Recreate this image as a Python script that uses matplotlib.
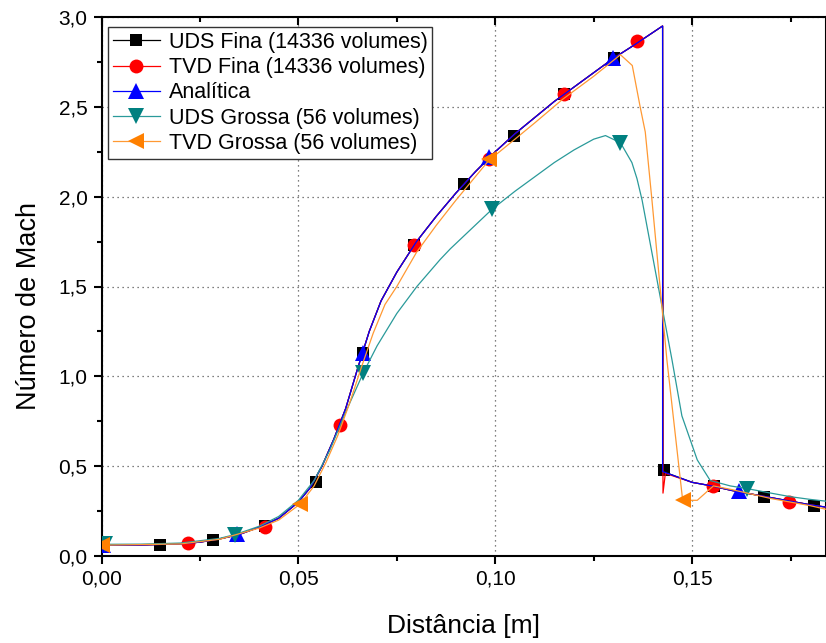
import matplotlib
matplotlib.use("Agg")
import matplotlib.pyplot as plt
from matplotlib.ticker import MultipleLocator, FuncFormatter

plt.rcParams['font.family'] = ['Liberation Sans', 'DejaVu Sans']

# ---------------- data ----------------
# Analytical solution (line)
x_an = [0.0, 0.01, 0.02, 0.025, 0.03, 0.035, 0.04, 0.045, 0.05, 0.053, 0.056, 0.059, 0.062,
        0.065, 0.068, 0.071, 0.075, 0.08, 0.085, 0.09, 0.095, 0.10, 0.105, 0.11, 0.115,
        0.12, 0.125, 0.13, 0.135, 0.1425, 0.1425, 0.15, 0.155, 0.16, 0.165, 0.17, 0.175,
        0.18, 0.184]
m_an = [0.06, 0.061, 0.068, 0.077, 0.095, 0.12, 0.16, 0.21, 0.30, 0.38, 0.50, 0.65, 0.82,
        1.04, 1.25, 1.42, 1.58, 1.75, 1.89, 2.02, 2.14, 2.25, 2.35, 2.44, 2.53,
        2.61, 2.69, 2.77, 2.84, 2.95, 0.47, 0.41, 0.39, 0.365, 0.345, 0.325, 0.305,
        0.285, 0.272]

# UDS fine mesh (line)
x_udsf = [0.0, 0.01, 0.02, 0.025, 0.03, 0.035, 0.04, 0.045, 0.05, 0.053, 0.056, 0.059, 0.062,
          0.065, 0.068, 0.071, 0.075, 0.08, 0.085, 0.09, 0.095, 0.10, 0.105, 0.11, 0.115,
          0.12, 0.125, 0.13, 0.135, 0.1425, 0.1426, 0.15, 0.155, 0.16, 0.165, 0.17, 0.175,
          0.18, 0.184]
m_udsf = [0.06, 0.061, 0.068, 0.077, 0.095, 0.12, 0.16, 0.21, 0.30, 0.38, 0.50, 0.65, 0.82,
          1.04, 1.25, 1.42, 1.58, 1.75, 1.89, 2.02, 2.14, 2.25, 2.35, 2.44, 2.53,
          2.61, 2.69, 2.77, 2.84, 2.95, 0.47, 0.41, 0.39, 0.365, 0.345, 0.325, 0.305,
          0.285, 0.272]

# TVD fine mesh (line)
x_tvdf = [0.0, 0.01, 0.02, 0.025, 0.03, 0.035, 0.04, 0.045, 0.05, 0.053, 0.056, 0.059, 0.062,
          0.065, 0.068, 0.071, 0.075, 0.08, 0.085, 0.09, 0.095, 0.10, 0.105, 0.11, 0.115,
          0.12, 0.125, 0.13, 0.135, 0.1425, 0.1426, 0.1432, 0.15, 0.155, 0.16, 0.165, 0.17,
          0.175, 0.18, 0.184]
m_tvdf = [0.06, 0.061, 0.068, 0.077, 0.095, 0.12, 0.16, 0.21, 0.30, 0.38, 0.50, 0.65, 0.82,
          1.04, 1.25, 1.42, 1.58, 1.75, 1.89, 2.02, 2.14, 2.25, 2.35, 2.44, 2.53,
          2.61, 2.69, 2.77, 2.84, 2.95, 0.35, 0.46, 0.41, 0.39, 0.365, 0.345, 0.325,
          0.305, 0.285, 0.272]

# UDS coarse mesh (line)
x_udsg = [0.0, 0.01, 0.02, 0.03, 0.034, 0.04, 0.045, 0.05, 0.054, 0.058, 0.062, 0.0665,
          0.07, 0.075, 0.0801, 0.086, 0.0886, 0.0992, 0.105, 0.11, 0.115, 0.12, 0.125,
          0.128, 0.1318, 0.1347, 0.136, 0.1373, 0.1449, 0.1474, 0.1513, 0.1546, 0.1597,
          0.164, 0.17, 0.175, 0.18, 0.184]
m_udsg = [0.065, 0.066, 0.072, 0.098, 0.12, 0.165, 0.22, 0.31, 0.42, 0.59, 0.80, 1.02,
          1.17, 1.35, 1.50, 1.65, 1.71, 1.93, 2.03, 2.11, 2.19, 2.26, 2.32,
          2.34, 2.30, 2.19, 2.10, 1.98, 1.09, 0.78, 0.535, 0.42, 0.39,
          0.375, 0.35, 0.33, 0.315, 0.305]

# TVD coarse mesh (line)
x_tvdg = [0.0, 0.02, 0.03, 0.04, 0.045, 0.0505, 0.054, 0.057, 0.060, 0.063, 0.066, 0.069,
          0.072, 0.075, 0.08, 0.085, 0.09, 0.0983, 0.105, 0.11, 0.117, 0.125, 0.1318,
          0.1348, 0.1368, 0.1381, 0.1398, 0.1436, 0.1476, 0.1513, 0.1554, 0.16, 0.165,
          0.17, 0.175, 0.18, 0.184]
m_tvdg = [0.06, 0.067, 0.093, 0.155, 0.20, 0.29, 0.39, 0.52, 0.67, 0.85, 1.05, 1.24,
          1.40, 1.50, 1.69, 1.84, 1.98, 2.20, 2.32, 2.41, 2.54, 2.67, 2.79,
          2.73, 2.50, 2.36, 1.98, 1.09, 0.31, 0.31, 0.39, 0.37, 0.345,
          0.32, 0.30, 0.28, 0.26]

# markers
mk_udsf_x = [0.0149, 0.0284, 0.0416, 0.0545, 0.0665, 0.0793, 0.092, 0.1047, 0.1174, 0.1302,
             0.1429, 0.1556, 0.1683, 0.181]
mk_udsf_y = [0.061, 0.09, 0.165, 0.414, 1.13, 1.73, 2.07, 2.34, 2.57, 2.77,
             0.48, 0.39, 0.33, 0.28]
mk_tvdf_x = [0.022, 0.0416, 0.0606, 0.0793, 0.0983, 0.1174, 0.1361, 0.1554, 0.1747]
mk_tvdf_y = [0.07, 0.16, 0.73, 1.73, 2.21, 2.57, 2.865, 0.39, 0.30]
mk_an_x = [0.0005, 0.0344, 0.0665, 0.0983, 0.130, 0.1618]
mk_an_y = [0.06, 0.12, 1.13, 2.22, 2.77, 0.36]
mk_udsg_x = [0.001, 0.034, 0.0665, 0.0992, 0.1318, 0.164]
mk_udsg_y = [0.065, 0.115, 1.02, 1.93, 2.30, 0.375]
mk_tvdg_x = [0.0, 0.0505, 0.0983, 0.1476]
mk_tvdg_y = [0.06, 0.29, 2.21, 0.31]

labels = ["UDS Fina (14336 volumes)", "TVD Fina (14336 volumes)", "Analítica",
          "UDS Grossa (56 volumes)", "TVD Grossa (56 volumes)"]
xticks = [0.0, 0.05, 0.10, 0.15]
yticks = [0.0, 0.5, 1.0, 1.5, 2.0, 2.5, 3.0]

# ---------------- figure ----------------
fig = plt.figure(figsize=(8.26, 6.43), dpi=100)
ax = fig.add_axes([101.5 / 826, 1 - 556 / 643, (826 - 101.5) / 826, (556 - 17) / 643])

lw = 0.9
series = [
    (x_udsf, m_udsf, mk_udsf_x, mk_udsf_y, 'black', 'black', 's', 8.5),
    (x_tvdf, m_tvdf, mk_tvdf_x, mk_tvdf_y, '#ff0000', '#ff0000', 'o', 10),
    (x_an, m_an, mk_an_x, mk_an_y, '#0000ff', '#0000ff', '^', 11),
    (x_udsg, m_udsg, mk_udsg_x, mk_udsg_y, '#2a9a9a', '#008080', 'v', 11),
    (x_tvdg, m_tvdg, mk_tvdg_x, mk_tvdg_y, '#ff9933', '#ff8000', '<', 11),
]
handles = []
for i, (xl, yl, xm, ym, lc, mc, mk, ms) in enumerate(series):
    z = 3 + i
    ax.plot(xl, yl, color=lc, lw=lw, zorder=z)
    ax.plot(xm, ym, linestyle='none', marker=mk, markersize=ms, color=mc,
            markeredgewidth=0, zorder=z + 0.5)
    h, = ax.plot([], [], color=lc, lw=lw, marker=mk, markersize=ms, markerfacecolor=mc,
                 markeredgewidth=0)
    handles.append(h)

ax.set_xlim(0, 0.184)
ax.set_ylim(0, 3.0)
ax.set_xticks(xticks)
ax.set_yticks(yticks)
ax.xaxis.set_minor_locator(MultipleLocator(0.025))
ax.yaxis.set_minor_locator(MultipleLocator(0.25))
ax.xaxis.set_major_formatter(FuncFormatter(lambda v, p: f"{v:.2f}".replace('.', ',')))
ax.yaxis.set_major_formatter(FuncFormatter(lambda v, p: f"{v:.1f}".replace('.', ',')))

ax.grid(True, which='major', linestyle=(0, (1, 3)), color='#555555', lw=0.9)
ax.set_axisbelow(True)

for s in ax.spines.values():
    s.set_linewidth(1.5)
ax.tick_params(axis='both', which='major', direction='out', length=6, width=1.5,
               labelsize=15, pad=4)
ax.tick_params(axis='both', which='minor', direction='out', length=3.5, width=1.5)
ax.tick_params(axis='both', which='both', top=True, right=True)
# top/right ticks inward
for tick in ax.xaxis.get_major_ticks() + ax.xaxis.get_minor_ticks():
    tick.tick2line.set_marker(3)
for tick in ax.yaxis.get_major_ticks() + ax.yaxis.get_minor_ticks():
    tick.tick2line.set_marker(1)

ax.set_xlabel("Distância [m]", fontsize=19, labelpad=18)
ax.set_ylabel("Número de Mach", fontsize=19.5)
ax.yaxis.set_label_coords(-0.082, 0.464)

leg = ax.legend(handles, labels, loc='upper left', bbox_to_anchor=(108 / 826, 1 - 27 / 643),
                bbox_transform=fig.transFigure, borderaxespad=0, fontsize=15.5,
                frameon=True, fancybox=False, edgecolor='#333333', framealpha=1,
                handlelength=2.2, handletextpad=0.4, labelspacing=0.2, borderpad=0.22)
leg.get_frame().set_linewidth(1.0)
leg.set_zorder(20)

fig.savefig("out.png", dpi=100)
